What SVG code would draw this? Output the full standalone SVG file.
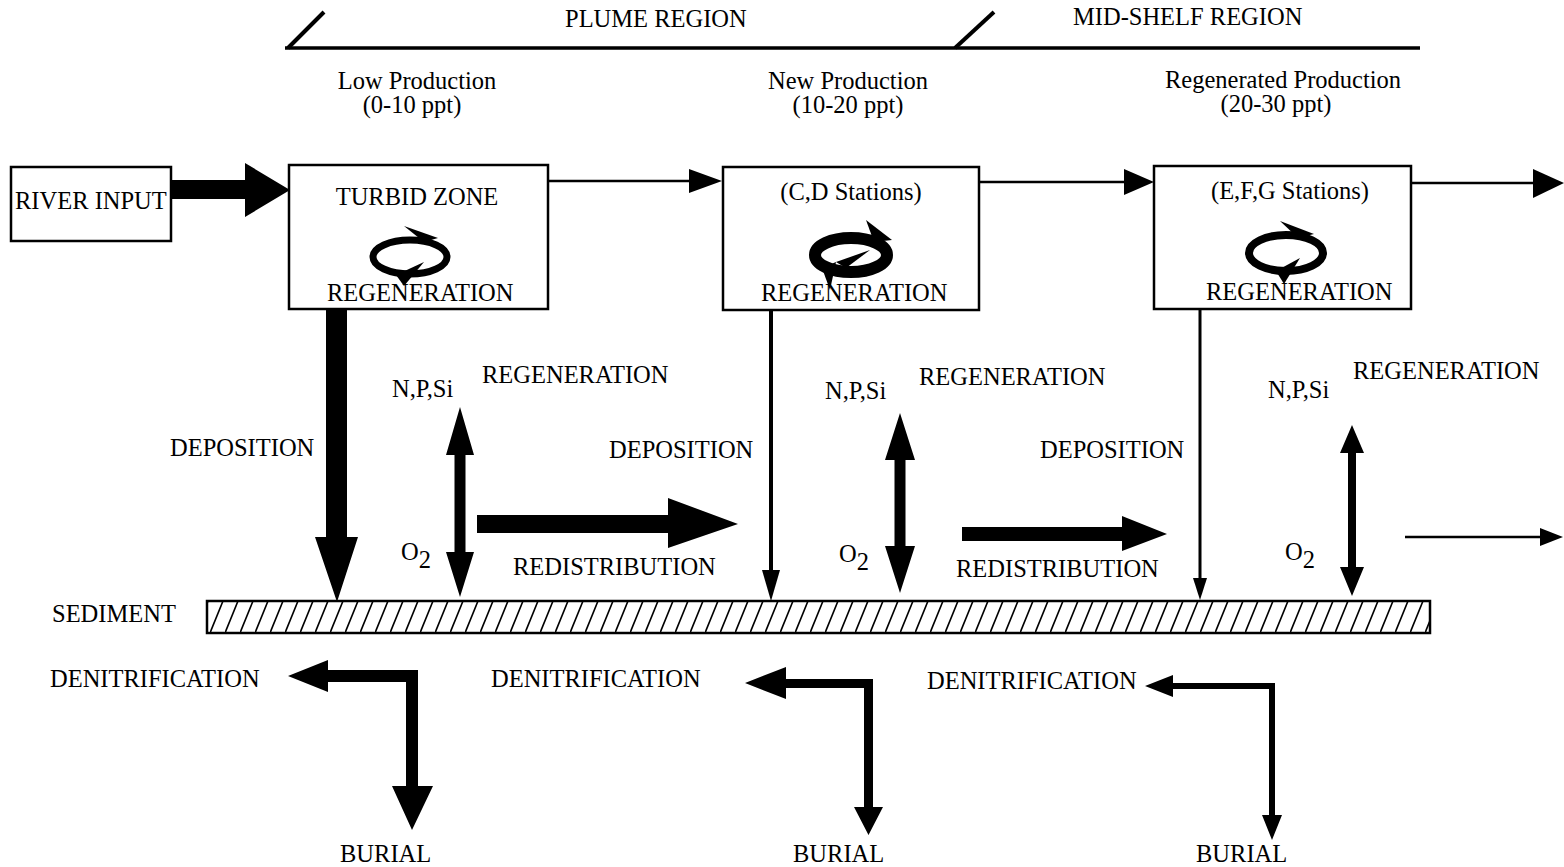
<svg xmlns="http://www.w3.org/2000/svg" width="1564" height="867" viewBox="0 0 1564 867">
<style>
.t{font-family:"Liberation Serif","Times New Roman",serif;font-size:24.5px;fill:#000}
.m{text-anchor:middle}
.box{fill:#fff;stroke:#000;stroke-width:2.5}
.blk{fill:#000;stroke:none}
.ln{stroke:#000;fill:none}
.ring{fill:none;stroke:#000}
</style>
<defs>
<pattern id="hatch" patternUnits="userSpaceOnUse" x="0" y="601" width="15" height="32">
<line x1="0" y1="32" x2="13" y2="0" stroke="#000" stroke-width="1.6"/>
</pattern>
</defs>
<rect width="1564" height="867" fill="#fff"/>

<g id="regions">
<line class="ln" x1="285" y1="48" x2="1420" y2="48" stroke-width="3.5"/>
<line class="ln" x1="288" y1="48" x2="324" y2="12" stroke-width="4"/>
<line class="ln" x1="955" y1="48" x2="994" y2="12" stroke-width="4"/>
<text class="t" x="565" y="27">PLUME REGION</text>
<text class="t" x="1073" y="25">MID-SHELF REGION</text>
<text class="t m" x="417" y="89">Low Production</text>
<text class="t m" x="412" y="113">(0-10 ppt)</text>
<text class="t m" x="848" y="89">New Production</text>
<text class="t m" x="848" y="113">(10-20 ppt)</text>
<text class="t m" x="1283" y="88">Regenerated Production</text>
<text class="t m" x="1276" y="112">(20-30 ppt)</text>
</g>

<g id="river">
<rect class="box" x="11" y="167" width="160" height="74"/>
<text class="t" x="15" y="209">RIVER INPUT</text>
</g>

<g id="turbid">
<rect class="box" x="289" y="165" width="259" height="144"/>
<text class="t m" x="417" y="205">TURBID ZONE</text>
<ellipse class="ring" cx="410" cy="257" rx="37" ry="17" stroke-width="7"/>
<polygon class="blk" points="404,226 438,238 424,242"/>
<polygon class="blk" points="424,262 404,286 396,275"/>
<text class="t" x="327" y="301">REGENERATION</text>
</g>

<g id="cd">
<rect class="box" x="723" y="167" width="256" height="143"/>
<text class="t m" x="851" y="200">(C,D Stations)</text>
<ellipse class="ring" cx="851" cy="255" rx="36" ry="17" stroke-width="12"/>
<polygon class="blk" points="866,220 892,240 874,242"/>
<polygon class="blk" points="870,250 836,262 846,268"/>
<polygon class="blk" points="836,262 830,290 822,268"/>
<text class="t" x="761" y="301">REGENERATION</text>
</g>

<g id="efg">
<rect class="box" x="1154" y="166" width="257" height="143"/>
<text class="t m" x="1290" y="199">(E,F,G Stations)</text>
<ellipse class="ring" cx="1286" cy="253" rx="37" ry="18" stroke-width="8"/>
<polygon class="blk" points="1280,221 1314,234 1298,238"/>
<polygon class="blk" points="1300,258 1284,284 1276,271"/>
<text class="t" x="1206" y="300">REGENERATION</text>
</g>

<g id="sediment">
<rect x="207" y="601" width="1223" height="32" fill="url(#hatch)" stroke="#000" stroke-width="2.5"/>
<text class="t" x="52" y="622">SEDIMENT</text>
</g>

<g id="labels">
<text class="t" x="170" y="456">DEPOSITION</text>
<text class="t" x="392" y="397">N,P,Si</text>
<text class="t" x="482" y="383">REGENERATION</text>
<text class="t" x="401" y="560">O<tspan dy="8">2</tspan></text>
<text class="t" x="513" y="575">REDISTRIBUTION</text>

<text class="t" x="609" y="458">DEPOSITION</text>
<text class="t" x="825" y="399">N,P,Si</text>
<text class="t" x="919" y="385">REGENERATION</text>
<text class="t" x="839" y="562">O<tspan dy="8">2</tspan></text>
<text class="t" x="956" y="577">REDISTRIBUTION</text>

<text class="t" x="1040" y="458">DEPOSITION</text>
<text class="t" x="1268" y="398">N,P,Si</text>
<text class="t" x="1353" y="379">REGENERATION</text>
<text class="t" x="1285" y="560">O<tspan dy="8">2</tspan></text>

<text class="t" x="50" y="687">DENITRIFICATION</text>
<text class="t" x="491" y="687">DENITRIFICATION</text>
<text class="t" x="927" y="689">DENITRIFICATION</text>
<text class="t" x="340" y="862">BURIAL</text>
<text class="t" x="793" y="862">BURIAL</text>
<text class="t" x="1196" y="862">BURIAL</text>
</g>

<g id="connectors">
<polygon class="blk" points="171,180 245,180 245,163 290,190 245,217 245,199 171,199"/>
<line class="ln" x1="548" y1="181" x2="692" y2="181" stroke-width="2.5"/>
<polygon class="blk" points="689,169 722,181 689,193"/>
<line class="ln" x1="979" y1="182" x2="1127" y2="182" stroke-width="2.5"/>
<polygon class="blk" points="1124,169 1154,182 1124,195"/>
<line class="ln" x1="1411" y1="183" x2="1536" y2="183" stroke-width="2.5"/>
<polygon class="blk" points="1533,169 1564,183 1533,198"/>
<polygon class="blk" points="326,310 347,310 347,537 358,537 337,602 315,537 326,537"/>
<line class="ln" x1="771" y1="310" x2="771" y2="575" stroke-width="4"/>
<polygon class="blk" points="762,570 780,570 771,601"/>
<line class="ln" x1="1200" y1="309" x2="1200" y2="582" stroke-width="3"/>
<polygon class="blk" points="1193,578 1207,578 1200,600"/>
<polygon class="blk" points="460,407 474,455 465.5,455 465.5,552 474,552 460,597 446,552 454.5,552 454.5,455 446,455"/>
<polygon class="blk" points="900,413 915,460 905.5,460 905.5,546 915,546 900,593 885,546 894.5,546 894.5,460 885,460"/>
<polygon class="blk" points="1352,425 1364,453 1356,453 1356,567 1364,567 1352,596 1340,567 1348,567 1348,453 1340,453"/>
<polygon class="blk" points="477,515 668,515 668,498 738,524 668,548 668,533 477,533"/>
<polygon class="blk" points="962,527 1122,527 1122,516 1167,534 1122,551 1122,541 962,541"/>
<line class="ln" x1="1405" y1="537" x2="1543" y2="537" stroke-width="2.5"/>
<polygon class="blk" points="1540,528 1563,537 1540,546"/>
<polygon class="blk" points="288,676 328,660 328,670 418,670 418,786 433,786 412,830 392,786 406,786 406,682 328,682 328,692"/>
<polygon class="blk" points="745,683 786,667 786,679 873,679 873,807 883,807 868.5,835 854,807 864,807 864,688 786,688 786,699"/>
<polygon class="blk" points="1145,686 1173,675 1173,683 1275,683 1275,815 1282,815 1272,840 1262,815 1269,815 1269,689 1173,689 1173,697"/>
</g>
</svg>
